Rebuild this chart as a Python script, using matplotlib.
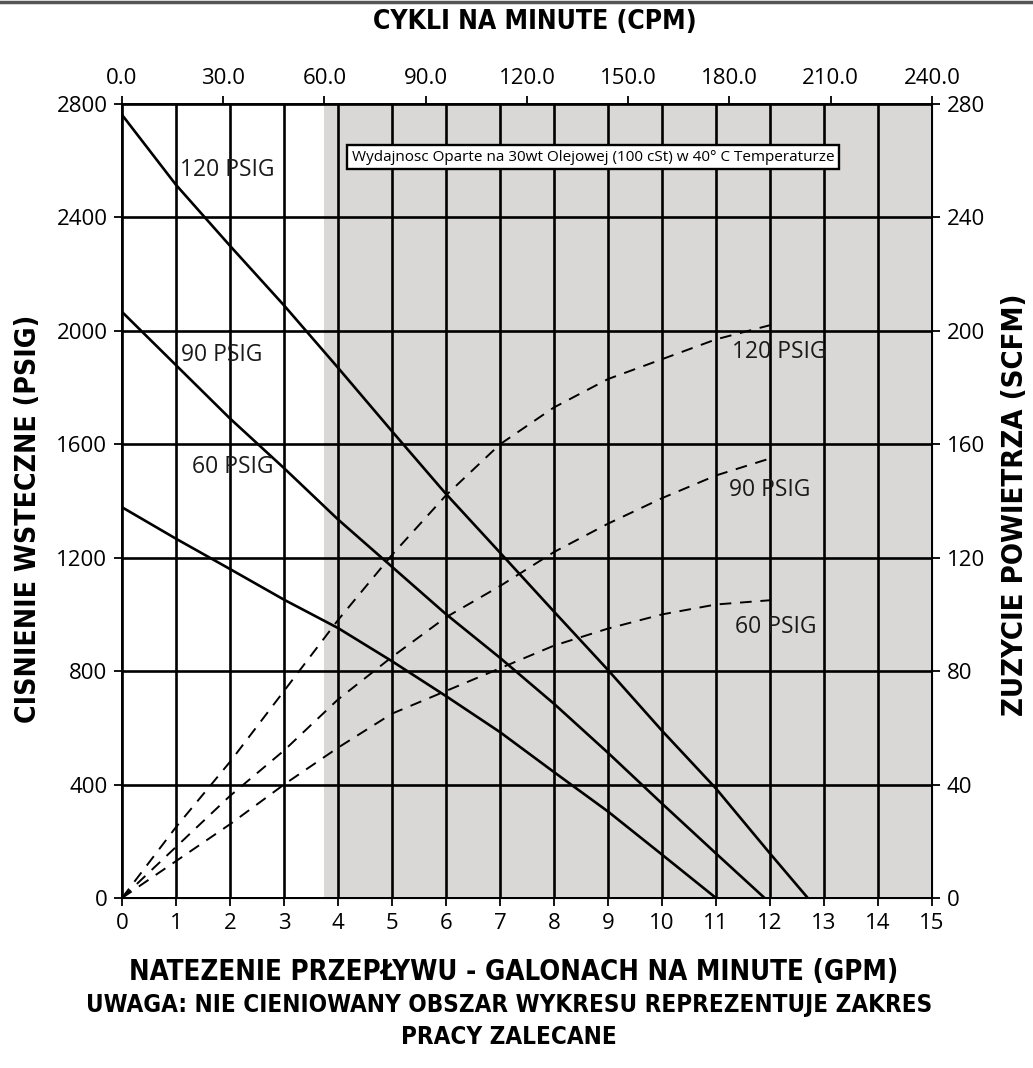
import matplotlib
matplotlib.use('Agg')
import matplotlib.pyplot as plt
from matplotlib.lines import Line2D

# solid lines: back pressure (PSIG) vs flow (GPM)
gpm_120 = [0, 1, 2, 3, 4, 5, 6, 7, 8, 9, 10, 11, 12, 12.7]
psig_120 = [2762, 2515, 2300, 2090, 1870, 1646, 1425, 1218, 1010, 804, 590, 386, 157, 0]
gpm_90 = [0, 1, 2, 3, 4, 5, 6, 7, 8, 9, 10, 11, 11.9]
psig_90 = [2067, 1879, 1691, 1516, 1335, 1168, 1001, 847, 685, 512, 333, 157, 0]
gpm_60 = [0, 1, 2, 3, 4, 5, 6, 7, 8, 9, 10, 11]
psig_60 = [1378, 1267, 1160, 1052, 952, 835, 712, 585, 444, 305, 153, 0]

# dashed lines: air consumption (SCFM) vs flow (GPM)
gpm_air = [0, 1, 2, 3, 4, 5, 6, 7, 8, 9, 10, 11, 12]
scfm_120 = [0, 25, 48, 73, 98, 121, 142, 160, 173, 183, 190, 197, 202]
scfm_90 = [0, 18, 36, 52, 70, 85, 99, 110, 122, 132, 141, 149, 155]
scfm_60 = [0, 13, 26, 40, 53, 65, 73, 81, 89, 95, 100, 103.5, 105]

psig_ticks = [0, 400, 800, 1200, 1600, 2000, 2400, 2800]
scfm_ticks = [0, 40, 80, 120, 160, 200, 240, 280]
cpm_ticks = [0, 30, 60, 90, 120, 150, 180, 210, 240]
recommended_max = 3.75

TICK_FONT = ['Open Sans', 'DejaVu Sans']
BOLD_FONT = ['DejaVu Sans']


def main() -> None:
    fig = plt.figure(figsize=(10.33, 10.68), dpi=100)
    ax = fig.add_axes([0.1181, 0.1592, 0.7841, 0.7434])
    ax.set_xlim(0, 15)
    ax.set_ylim(0, 2800)

    ax.axvspan(recommended_max, 15, color='#d9d8d7', zorder=0, lw=0)
    ax.set_xticks(range(16))
    ax.set_yticks(psig_ticks)
    ax.grid(True, color='black', lw=1.9, zorder=1)
    ax.set_axisbelow(False)

    ax.plot(gpm_120, psig_120, color='black', lw=1.9, zorder=3)
    ax.plot(gpm_90, psig_90, color='black', lw=1.9, zorder=3)
    ax.plot(gpm_60, psig_60, color='black', lw=1.9, zorder=3)

    lbl = dict(fontsize=16.5, family=TICK_FONT, color='#1a1a1a', va='center', ha='left', zorder=4)
    ax.text(1.07, 2567, '120 PSIG', **lbl)
    ax.text(1.1, 1915, '90 PSIG', **lbl)
    ax.text(1.3, 1520, '60 PSIG', **lbl)
    ax.text(11.3, 1925, '120 PSIG', **lbl)
    ax.text(11.24, 1439, '90 PSIG', **lbl)
    ax.text(11.35, 956, '60 PSIG', **lbl)

    for s in ax.spines.values():
        s.set_linewidth(1.4)
    ax.tick_params(direction='out', length=5.5, width=1.3, labelsize=16, pad=5)
    for t in ax.get_xticklabels() + ax.get_yticklabels():
        t.set_family(TICK_FONT)

    ax2 = ax.twinx()
    ax2.set_ylim(0, 280)
    ax2.set_yticks(scfm_ticks)
    ax2.plot(gpm_air, scfm_120, color='black', lw=1.4, ls=(0, (6, 4.5)), zorder=3)
    ax2.plot(gpm_air, scfm_90, color='black', lw=1.4, ls=(0, (6, 4.5)), zorder=3)
    ax2.plot(gpm_air, scfm_60, color='black', lw=1.4, ls=(0, (6, 4.5)), zorder=3)
    ax2.tick_params(direction='out', length=5.5, width=1.3, labelsize=16, pad=5)
    for t in ax2.get_yticklabels():
        t.set_family(TICK_FONT)
    ax2.text(8.72, 261.3, 'Wydajnosc Oparte na 30wt Olejowej (100 cSt) w 40° C Temperaturze',
             fontsize=11, family=TICK_FONT, ha='center', va='center', zorder=5,
             bbox=dict(boxstyle='square,pad=0.32', fc='white', ec='black', lw=1.7))

    top = ax.secondary_xaxis('top', functions=(lambda x: x * 16, lambda x: x / 16))
    top.set_xticks(cpm_ticks)
    top.set_xticklabels([f'{v:.1f}' for v in cpm_ticks])
    top.tick_params(direction='out', length=5.5, width=1.3, labelsize=16, pad=5)
    for t in top.get_xticklabels():
        t.set_family(TICK_FONT)

    bold = dict(family=BOLD_FONT, fontweight='bold', stretch='condensed', color='black')
    fig.text(0.5175, 0.979, 'CYKLI NA MINUTE (CPM)', fontsize=19, ha='center', va='center', **bold)
    fig.text(0.4975, 0.0899, 'NATEZENIE PRZEPŁYWU - GALONACH NA MINUTE (GPM)', fontsize=19.8,
             ha='center', va='center', **bold)
    fig.text(0.4925, 0.0590, 'UWAGA: NIE CIENIOWANY OBSZAR WYKRESU REPREZENTUJE ZAKRES',
             fontsize=17.4, ha='center', va='center', **bold)
    fig.text(0.4925, 0.0290, 'PRACY ZALECANE', fontsize=17.4, ha='center', va='center', **bold)
    fig.text(0.0275, 0.514, 'CISNIENIE WSTECZNE (PSIG)', fontsize=20.3, rotation=90,
             ha='center', va='center', **bold)
    fig.text(0.983, 0.527, 'ZUZYCIE POWIETRZA (SCFM)', fontsize=21, rotation=90,
             ha='center', va='center', **bold)

    fig.add_artist(Line2D([0, 1], [0.9985, 0.9985], color='#555555', lw=2.5))

    fig.savefig('out.png', dpi=100)


if __name__ == '__main__':
    main()
